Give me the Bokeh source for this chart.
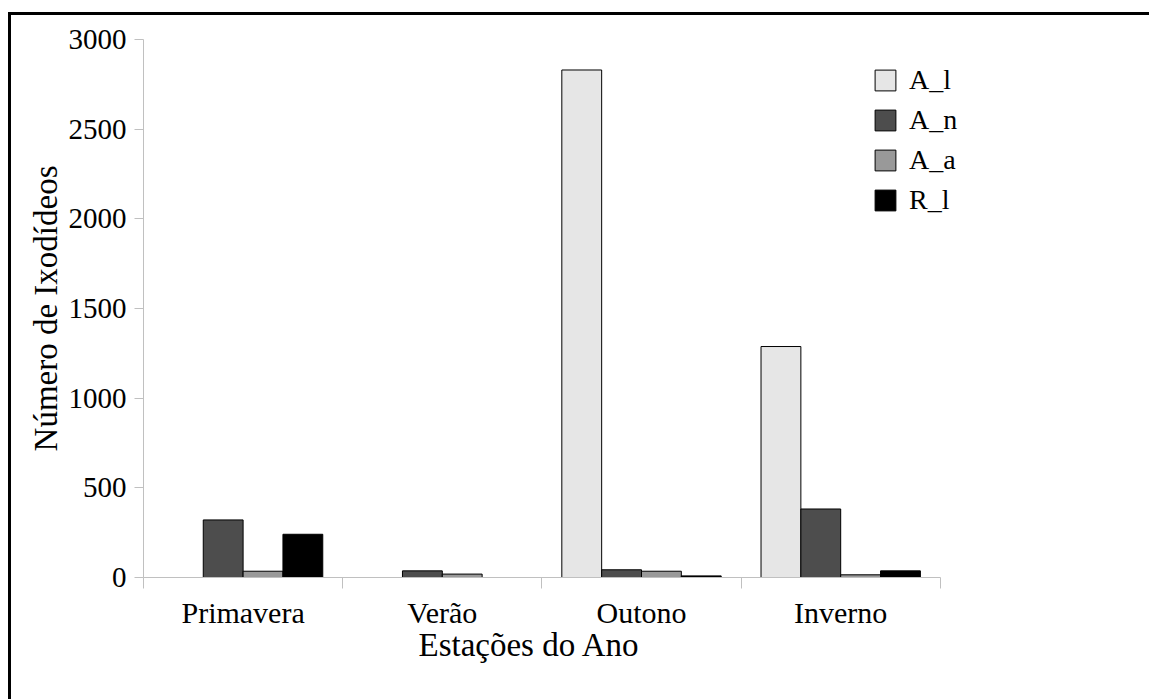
from bokeh.plotting import figure
from bokeh.models import Range1d, FixedTicker, ColumnDataSource, Legend, LegendItem, Title
from bokeh.embed import file_html
from bokeh.resources import INLINE

seasons = ["Primavera", "Verão", "Outono", "Inverno"]
series = ["A_l", "A_n", "A_a", "R_l"]
A_l = [0, 0, 2830, 1288]
A_n = [321, 37, 43, 382]
A_a = [35, 19, 35, 15]
R_l = [241, 0, 9, 37]
colors = ["#e6e6e6", "#4d4d4d", "#999999", "#000000"]
y_ticks = [0, 500, 1000, 1500, 2000, 2500, 3000]

FONT = "Liberation Serif"

n = len(seasons)
p = figure(output_backend="svg", toolbar_location=None,
           frame_width=996, frame_height=538,
           min_border_left=132, min_border_top=24,
           min_border_right=10, min_border_bottom=122,
           x_range=Range1d(0, n + 1), y_range=Range1d(0, 3000))
p.styles = {"border-left": "3px solid black", "border-top": "3px solid black",
            "margin-top": "12px", "margin-left": "8px"}
p.outline_line_color = None
p.grid.visible = False
p.background_fill_color = "white"
p.border_fill_color = "white"

offsets = [-0.3, -0.1, 0.1, 0.3]
values = [A_l, A_n, A_a, R_l]
items = []
for name, vals, off, col in zip(series, values, offsets, colors):
    src = ColumnDataSource(dict(x=[i + 0.5 + off for i in range(n)], top=vals))
    r = p.vbar(x="x", top="top", bottom=0, width=0.2, source=src,
               fill_color=col, line_color="#000000", line_width=1)
    items.append(LegendItem(label=name, renderers=[r]))

legend = Legend(items=items, location=(729, 361))
legend.border_line_color = None
legend.background_fill_alpha = 0
legend.padding = 0
legend.margin = 0
legend.glyph_width = 26
legend.glyph_height = 26
legend.label_height = 22
legend.spacing = 8
legend.label_standoff = 11
legend.label_text_font = FONT
legend.label_text_font_size = "28px"
legend.label_text_color = "black"
p.add_layout(legend, "center")

# y axis
ya = p.yaxis[0]
ya.ticker = FixedTicker(ticks=y_ticks)
ya.axis_line_color = "#c0c0c0"
ya.major_tick_line_color = "#c0c0c0"
ya.major_tick_out = 9
ya.major_tick_in = 0
ya.minor_tick_line_color = None
ya.major_label_text_font = FONT
ya.major_label_text_font_size = "29px"
ya.major_label_text_color = "black"
ya.major_label_standoff = 8
ya.axis_label = "Número de Ixodídeos"
ya.axis_label_text_font = FONT
ya.axis_label_text_font_size = "33px"
ya.axis_label_text_font_style = "normal"
ya.axis_label_text_color = "black"
ya.axis_label_standoff = 2

# x axis
xa = p.xaxis[0]
xa.bounds = (0, n)
xa.ticker = FixedTicker(ticks=[i + 0.5 for i in range(n)],
                        minor_ticks=list(range(n + 1)))
xa.major_label_overrides = {i + 0.5: s for i, s in enumerate(seasons)}
xa.axis_line_color = "#c0c0c0"
xa.major_tick_line_color = None
xa.major_tick_out = 0
xa.minor_tick_line_color = "#c0c0c0"
xa.minor_tick_out = 11
xa.minor_tick_in = 0
xa.major_label_text_font = FONT
xa.major_label_text_font_size = "30px"
xa.major_label_text_color = "black"
xa.major_label_standoff = 7

xtitle = Title(text="Estações do Ano", align="left", offset=275, standoff=-13,
               text_font=FONT, text_font_size="33px", text_font_style="normal",
               text_color="black")
p.add_layout(xtitle, "below")

open("out.html", "w").write(file_html(p, INLINE))
